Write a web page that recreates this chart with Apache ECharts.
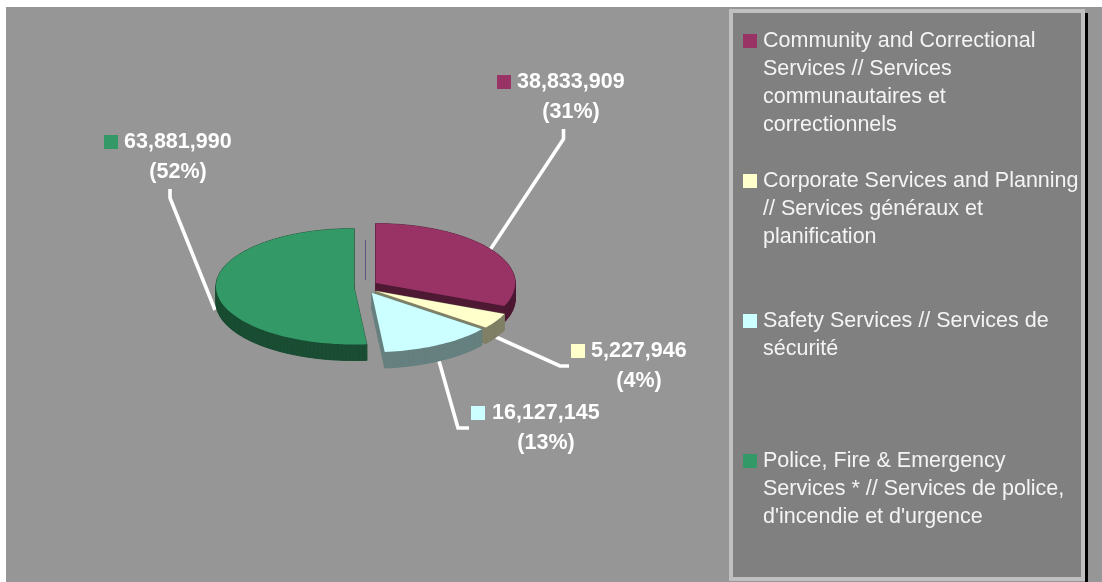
<!DOCTYPE html>
<html>
<head>
<meta charset="utf-8">
<style>html,body{margin:0;padding:0;background:#fff}#c{width:1102px;height:582px}</style>
<script src="https://cdn.jsdelivr.net/npm/echarts@6/dist/echarts.min.js"></script>
</head>
<body>
<div id="c"></div>
<script>
const categories = [
  'Community and Correctional Services // Services communautaires et correctionnels',
  'Corporate Services and Planning // Services généraux et planification',
  'Safety Services // Services de sécurité',
  'Police, Fire & Emergency Services * // Services de police, d\'incendie et d\'urgence'
];
const legendLines = [
  ['Community and Correctional', 'Services // Services', 'communautaires et', 'correctionnels'],
  ['Corporate Services and Planning', '// Services généraux et', 'planification'],
  ['Safety Services // Services de', 'sécurité'],
  ['Police, Fire & Emergency', 'Services * // Services de police,', 'd\'incendie et d\'urgence']
];
const values = [38833909, 5227946, 16127145, 63881990];
const percentLabels = ['(31%)', '(4%)', '(13%)', '(52%)'];
const colors = ['#993366', '#ffffcc', '#ccffff', '#339966'];
const sideColors = ['#4d1933', '#808066', '#668080', '#1a4d33'];

// Layout / styling only
const apexes = [[375.7, 283], [375.7, 291], [371.7, 292.7], [354, 286.5]];
const radiiX = [139.5, 139.5, 139.5, 138];
const radiiY = [59.5, 59.5, 59.5, 58];
const DEPTH = 16;
const leaders = [
  [[490, 250], [563.5, 139], [563.5, 129]],
  [[496, 337], [560, 366], [569, 366]],
  [[439, 361], [458, 428], [469, 428]],
  [[215, 310], [170, 198], [170, 189]]
];
const labelPos = [
  {key: [497, 75], text: [517, 82], pct: [571, 112]},
  {key: [571, 344], text: [591, 351], pct: [639, 381]},
  {key: [471, 406], text: [492, 413], pct: [546, 443]},
  {key: [104, 135], text: [124, 142], pct: [178, 172]}
];
const legendY = [40, 180, 320, 460];
const LINE_H = 28;
const drawOrder = [3, 0, 1, 2];

const total = values.reduce((a, b) => a + b, 0);
const fmt = v => v.toLocaleString('en-US');

function renderSlice(i) {
  return function (params, api) {
    const v = api.value(0);
    let before = 0;
    for (let k = 0; k < i; k++) before += values[k];
    const a0 = before / total * Math.PI * 2;
    const a1 = (before + v) / total * Math.PI * 2;
    const [ax, ay] = apexes[i];
    const top = [[ax, ay]];
    const n = Math.max(8, Math.ceil((a1 - a0) / 0.03));
    for (let s = 0; s <= n; s++) {
      const t = a0 + (a1 - a0) * s / n;
      top.push([ax + radiiX[i] * Math.sin(t), ay - radiiY[i] * Math.cos(t)]);
    }
    const sideStyle = {fill: sideColors[i], stroke: sideColors[i], lineWidth: 0.6};
    const children = [];
    children.push({
      type: 'polyline',
      shape: {points: leaders[i]},
      style: {fill: 'none', stroke: '#fff', lineWidth: 3.6, lineJoin: 'miter'}
    });
    children.push({
      type: 'polygon',
      shape: {points: top.map(p => [p[0], p[1] + DEPTH])},
      style: sideStyle
    });
    for (let s = 0; s < top.length; s++) {
      const p = top[s], q = top[(s + 1) % top.length];
      children.push({
        type: 'polygon',
        shape: {points: [p, q, [q[0], q[1] + DEPTH], [p[0], p[1] + DEPTH]]},
        style: sideStyle
      });
    }
    children.push({type: 'polygon', shape: {points: top}, style: {fill: colors[i]}});
    const lp = labelPos[i];
    children.push({
      type: 'rect',
      shape: {x: lp.key[0], y: lp.key[1], width: 14, height: 14},
      style: {fill: colors[i]}
    });
    const labelFont = 'bold 21.5px "Liberation Sans", Arial, sans-serif';
    children.push({
      type: 'text',
      style: {x: lp.text[0], y: lp.text[1], text: fmt(v), font: labelFont, fill: '#fff', align: 'left', verticalAlign: 'middle'}
    });
    children.push({
      type: 'text',
      style: {x: lp.pct[0], y: lp.pct[1], text: percentLabels[i], font: labelFont, fill: '#fff', align: 'center', verticalAlign: 'middle'}
    });
    return {type: 'group', children};
  };
}

const series = drawOrder.map((i, order) => ({
  type: 'custom',
  name: categories[i],
  coordinateSystem: 'none',
  z: 2 + order,
  silent: true,
  animation: false,
  itemStyle: {color: colors[i]},
  data: [[values[i]]],
  renderItem: renderSlice(i)
}));

const legends = categories.map((name, i) => {
  const lines = legendLines[i];
  const pad = new Array(lines.length - 1).fill(' ');
  const blockLines = lines.length * 2 - 1;
  return {
    data: [name],
    left: 743,
    top: legendY[i] - blockLines * LINE_H / 2,
    padding: 0,
    orient: 'vertical',
    icon: 'rect',
    itemWidth: 14,
    itemHeight: 14,
    itemGap: 0,
    selectedMode: false,
    formatter: () => pad.concat(lines).join('\n'),
    textStyle: {
      color: '#f4f4f4',
      fontFamily: '"Liberation Sans", Arial, sans-serif',
      fontSize: 21.5,
      lineHeight: LINE_H,
      padding: [2, 0, 0, 1]
    }
  };
});

const chart = echarts.init(document.getElementById('c'), null, {renderer: 'canvas'});
chart.setOption({
  animation: false,
  backgroundColor: '#ffffff',
  graphic: [
    {type: 'rect', z: -10, silent: true, shape: {x: 6, y: 7, width: 1096, height: 575}, style: {fill: '#969696'}},
    {type: 'rect', z: -9, silent: true, shape: {x: 729, y: 9, width: 356, height: 572}, style: {fill: '#c0c0c0'}},
    {type: 'rect', z: -8, silent: true, shape: {x: 733, y: 13, width: 348, height: 564}, style: {fill: '#808080'}},
    {type: 'rect', z: -8, silent: true, shape: {x: 1085, y: 13, width: 3, height: 569}, style: {fill: '#000'}},
    {type: 'line', z: -8, silent: true, shape: {x1: 365.5, y1: 240, x2: 365.5, y2: 280}, style: {stroke: '#55557f', lineWidth: 1}}
  ],
  legend: legends,
  series
});
</script>
</body>
</html>
